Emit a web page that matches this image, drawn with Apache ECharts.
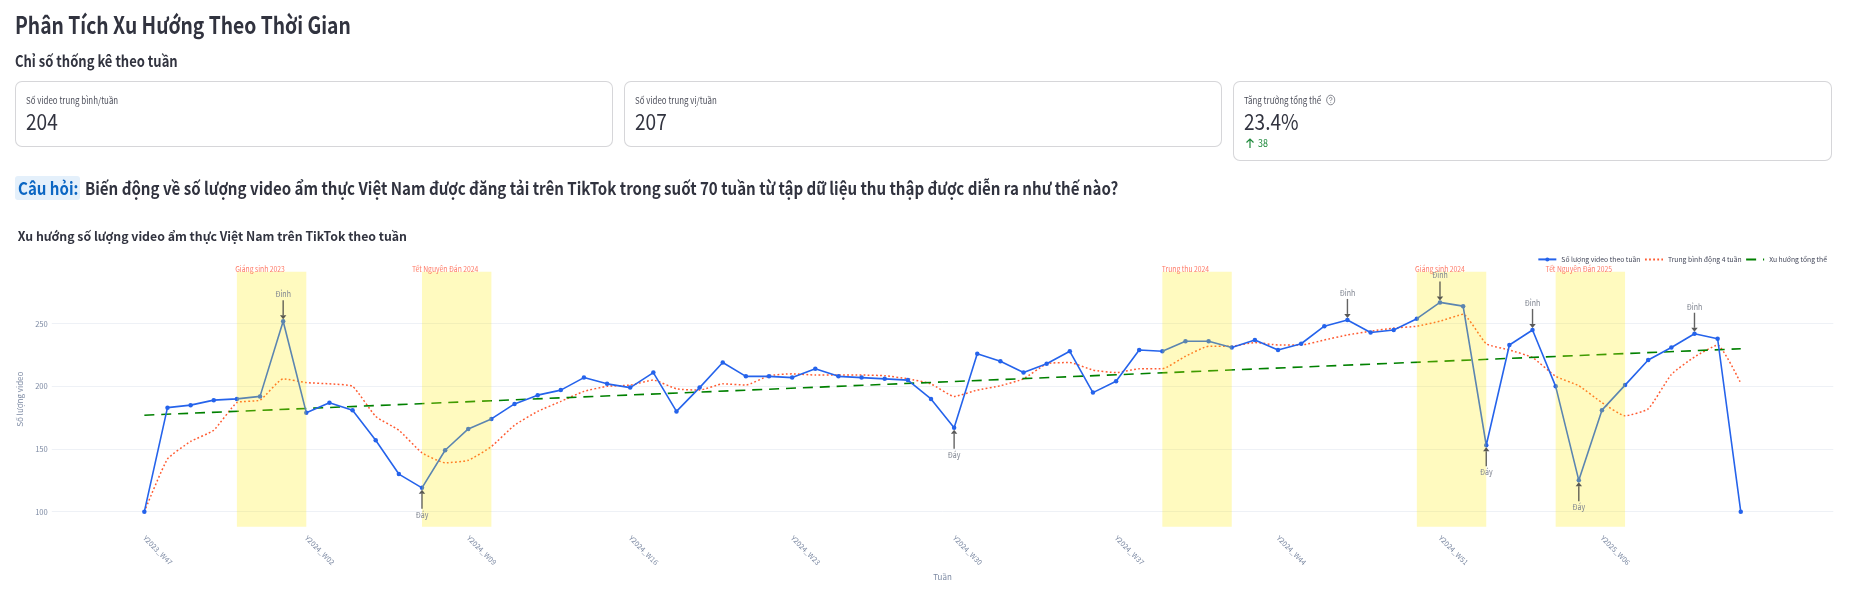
<!DOCTYPE html>
<html lang="vi"><head><meta charset="utf-8">
<script src="https://cdn.jsdelivr.net/npm/echarts@6/dist/echarts.min.js"></script>
<style>
html,body{margin:0;padding:0;background:#fff;width:1849px;height:598px;overflow:hidden}
body,div,span{font-family:"Noto Sans CJK SC","Source Sans Pro","Noto Sans",sans-serif;color:#31333f}
.abs{position:absolute;white-space:nowrap}
.sq{transform-origin:left center}
.card{position:absolute;box-sizing:border-box;border:1px solid rgba(49,51,63,.2);border-radius:7px;background:#fff}
.lab{position:absolute;left:10px;top:11px;font-size:9.3px;line-height:14px;color:#4b4d59;white-space:nowrap;transform:scaleX(.85);transform-origin:left center}
.val{position:absolute;left:10px;top:21px;font-size:21.7px;line-height:35px;white-space:nowrap;font-weight:400;transform:scaleX(.88);transform-origin:left center}
</style></head><body>
<div id="chart" style="position:absolute;left:0;top:0;width:1849px;height:598px"></div>
<div class="abs sq" style="left:15px;top:6px;font-size:23.5px;line-height:36px;font-weight:600;transform:scaleX(.82)">Phân Tích Xu Hướng Theo Thời Gian</div>
<div class="abs sq" style="left:15px;top:48px;font-size:15.5px;line-height:24px;font-weight:600;transform:scaleX(.84)">Chỉ số thống kê theo tuần</div>
<div class="card" style="left:15px;top:81px;width:598px;height:66px"><div class="lab">Số video trung bình/tuần</div><div class="val">204</div></div>
<div class="card" style="left:624px;top:81px;width:598px;height:66px"><div class="lab">Số video trung vị/tuần</div><div class="val">207</div></div>
<div class="card" style="left:1233px;top:81px;width:599px;height:80px"><div class="lab">Tăng trưởng tổng thể
  <svg width="12" height="12" viewBox="0 0 11 11" style="vertical-align:-2px;margin-left:3px"><circle cx="5.5" cy="5.5" r="4.4" fill="none" stroke="#6b6d78" stroke-width=".8"/><path d="M4.2 4.4a1.3 1.3 0 1 1 1.8 1.2c-.4.2-.5.4-.5.9M5.5 7.6v.6" fill="none" stroke="#6b6d78" stroke-width=".8"/></svg></div>
  <div class="val">23.4%</div>
  <svg class="abs" style="left:11px;top:55px" width="10" height="12" viewBox="0 0 10 12"><path d="M5 11V2M1.5 5.5 5 2l3.5 3.5" fill="none" stroke="#1f8a3c" stroke-width="1.2"/></svg>
  <div class="abs sq" style="left:24px;top:54px;font-size:10.5px;line-height:14px;color:#1f8a3c;transform:scaleX(.85)">38</div></div>
<div class="abs" style="left:15px;top:176px;height:24px;width:65px;background:#e4f0fb;border-radius:3px"></div>
<div class="abs sq" style="left:18px;top:176px;font-size:17.5px;line-height:24px;font-weight:600;color:#0b66c3;transform:scaleX(.862)">Câu hỏi:</div>
<div class="abs sq" style="left:84.5px;top:176px;font-size:17.5px;line-height:24px;font-weight:600;transform:scaleX(.862)">Biến động về số lượng video ẩm thực Việt Nam được đăng tải trên TikTok trong suốt 70 tuần từ tập dữ liệu thu thập được diễn ra như thế nào?</div>
<script>
const FONT='"Noto Sans CJK SC","Noto Sans",sans-serif';
const tickIndex=[0,7,14,21,28,35,42,49,56,63];
const tickLabels=['Y2023_W47','Y2024_W02','Y2024_W09','Y2024_W16','Y2024_W23','Y2024_W30','Y2024_W37','Y2024_W44','Y2024_W51','Y2025_W06'];
const weekly=[100,183,185,189,190,192,252,179,187,181,157,130,119,149,166,174,186,193,197,207,202,199,211,180,199,219,208,208,207,214,208,207,206,205,190,167,226,220,211,218,228,195,204,229,228,236,236,231,237,229,234,248,253,243,245,254,267,264,153,233,245,200,125,181,201,221,231,242,238,100];
const movingAvg=[100,142,156,165,187,189,206,203,202,200,176,165,147,139,141,152,169,180,188,196,200,201,205,198,197,202,201,208.5,210,209,209,209,208.5,206,202,192,197,200.5,206,218,219,213,211,214,214,224,232,232,235,233,233,237,241,244,246.5,248,252,257.5,234,229,223,208,200.5,187,176.5,182,209.5,223.5,233,202.5];
const trendIndex=[0,69];
const trendValues=[177,230];
const bandStart=[4,12,44,55,61];
const bandEnd=[7,15,47,58,64];
const bandLabels=['Giáng sinh 2023','Tết Nguyên Đán 2024','Trung thu 2024','Giáng sinh 2024','Tết Nguyên Đán 2025'];
const peakIndex=[6,52,56,60,67];
const troughIndex=[12,35,58,62];
const names=['Số lượng video theo tuần','Trung bình động 4 tuần','Xu hướng tổng thể'];

const chart=echarts.init(document.getElementById('chart'),null,{renderer:'canvas'});
const axisText='#7d8aa3';
chart.setOption({
 animation:false,
 textStyle:{fontFamily:FONT},
 title:{text:'Xu hướng số lượng video ẩm thực Việt Nam trên TikTok theo tuần',left:12.7,top:222,
   textStyle:{fontFamily:FONT,fontSize:12.3,fontWeight:600,color:'#31333f',lineHeight:18}},
 legend:{data:[{name:names[0]},{name:names[1],itemStyle:{opacity:0}},{name:names[2],itemStyle:{opacity:0}}],
   right:17,top:251,itemWidth:18,itemHeight:5,itemGap:3.5,padding:[5,5,5,0],
   textStyle:{fontFamily:FONT,fontSize:6.8,color:'#44485a'}},
 grid:{left:51.8,right:15.7,top:271.7,bottom:71.3,containLabel:false},
 xAxis:{type:'value',min:-4,max:73,splitLine:{show:false},axisLine:{show:false},axisTick:{show:false},
   name:'Tuần',nameLocation:'middle',nameGap:46,nameTextStyle:{fontSize:8,color:axisText},
   axisLabel:{customValues:tickIndex,rotate:-45,fontSize:7.2,color:axisText,margin:10,
     formatter:v=>tickLabels[tickIndex.indexOf(v)]||''}},
 yAxis:{type:'value',min:88,max:291.5,axisLine:{show:false},
   axisTick:{show:false,customValues:[100,150,200,250]},
   splitLine:{show:true,lineStyle:{color:'#eef1f6',width:1}},
   name:'Số lượng video',nameLocation:'middle',nameGap:27,nameTextStyle:{fontSize:8,color:axisText},
   axisLabel:{customValues:[100,150,200,250],fontSize:7.6,color:axisText,margin:4}},
 series:[
  {name:names[0],type:'line',data:weekly.map((v,i)=>[i,v]),symbol:'circle',symbolSize:4.5,showSymbol:true,z:3,
   lineStyle:{color:'#2563eb',width:1.6},itemStyle:{color:'#2563eb'}},
  {name:names[1],type:'line',data:movingAvg.map((v,i)=>[i,v]),symbol:'none',smooth:0.15,z:2,
   lineStyle:{color:'#ff5a30',width:1.5,type:[1.8,2.3]},itemStyle:{color:'#ff5a30'}},
  {name:names[2],type:'line',data:trendIndex.map((x,i)=>[x,trendValues[i]]),symbol:'none',z:2,
   lineStyle:{color:'#008000',width:1.6,type:[10,6.9]},itemStyle:{color:'#008000'}},
  {name:'bands',type:'custom',z:5,clip:false,silent:true,legendHoverLink:false,
   data:bandStart.map((s,i)=>[s,bandEnd[i],i]),encode:{x:[0,1]},
   renderItem(p,api){
     const a=api.coord([api.value(0),100])[0],b=api.coord([api.value(1),100])[0],cs=p.coordSys;
     const mid=api.coord([api.value(0)+1,100])[0];
     return {type:'group',children:[
       {type:'rect',shape:{x:a,y:cs.y,width:b-a,height:cs.height},style:{fill:'rgba(255,235,0,0.25)'}},
       {type:'text',x:mid,y:cs.y+1,scaleX:.87,style:{text:bandLabels[api.value(2)],fontFamily:FONT,fontSize:7.8,fill:'#ff7a66',align:'center',verticalAlign:'bottom'}}
     ]};
   }},
  {name:'extremes',type:'custom',z:6,clip:false,silent:true,
   data:[...peakIndex.map(i=>[i,weekly[i],-1]),...troughIndex.map(i=>[i,weekly[i],1])],encode:{x:0,y:1},
   renderItem(p,api){
     const c=api.coord([api.value(0),api.value(1)]),dir=api.value(2); // -1: above, 1: below
     const x=c[0],tip=c[1]+dir*2,end=tip+dir*19,hb=tip+dir*4;
     return {type:'group',children:[
       {type:'line',shape:{x1:x,y1:end,x2:x,y2:hb},style:{stroke:'rgba(60,60,60,.8)',lineWidth:1.4}},
       {type:'polygon',shape:{points:[[x,tip],[x-3.2,hb],[x+3.2,hb]]},style:{fill:'rgba(60,60,60,.85)'}},
       {type:'text',x:x,y:end+dir*6,scaleX:.9,style:{text:dir<0?'Đỉnh':'Đáy',fontFamily:FONT,fontSize:7.8,fill:'#7f8490',align:'center',verticalAlign:'middle'}}
     ]};
   }}
 ]
});
</script></body></html>
